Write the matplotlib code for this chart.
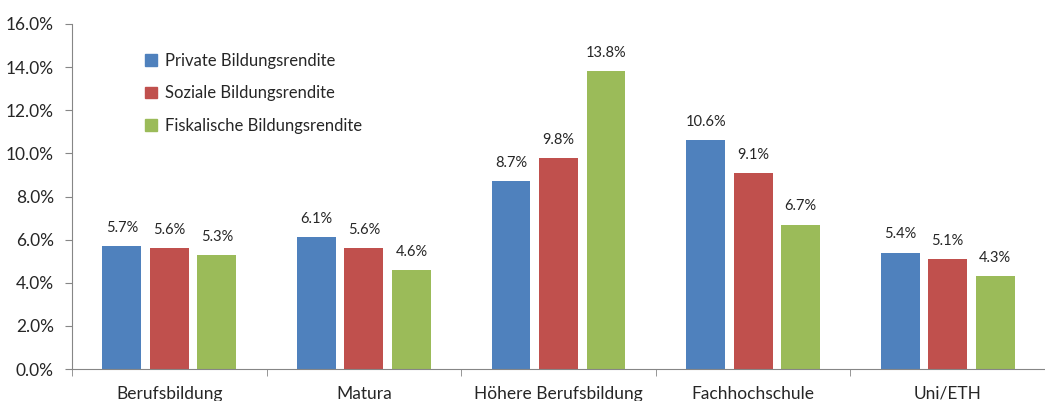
import numpy as np
import matplotlib.pyplot as plt
from matplotlib.patches import Patch

plt.rcParams['font.family'] = ['Lato', 'DejaVu Sans']

# Data
categories = ['Berufsbildung', 'Matura', 'Höhere Berufsbildung', 'Fachhochschule', 'Uni/ETH']
series_names = ['Private Bildungsrendite', 'Soziale Bildungsrendite', 'Fiskalische Bildungsrendite']
private = [5.7, 6.1, 8.7, 10.6, 5.4]
soziale = [5.6, 5.6, 9.8, 9.1, 5.1]
fiskal = [5.3, 4.6, 13.8, 6.7, 4.3]
colors = ['#4F81BD', '#C0504D', '#9BBB59']

fig = plt.figure(figsize=(10.45, 4.01), dpi=100)
ax = fig.add_axes([72 / 1045, 32 / 401, (1045 - 72) / 1045, 345 / 401])

x = np.arange(len(categories))
width = 0.2
step = 0.244
for i, (vals, col, name) in enumerate(zip([private, soziale, fiskal], colors, series_names)):
    pos = x + (i - 1) * step
    ax.bar(pos, vals, width=width, color=col, label=name)
    for p, v in zip(pos, vals):
        ax.annotate(f'{v:.1f}%', (p, v), xytext=(0, 8), textcoords='offset points',
                    ha='center', va='bottom', fontsize=10.5, color='#262626')

ax.set_ylim(0, 16)
ax.set_yticks(np.arange(0, 17, 2))
ax.set_yticklabels([f'{t:.1f}%' for t in np.arange(0, 17, 2)], fontsize=12.5, color='#262626')
ax.set_xlim(-0.5, -0.5 + 973 / 197)
ax.set_xticks(x)
ax.set_xticklabels(categories, fontsize=12.5, color='#262626')
ax.set_xticks(np.arange(-0.5, 5, 1), minor=True)
ax.tick_params(axis='x', which='major', length=0, pad=12)
ax.tick_params(axis='x', which='minor', length=5, color='#868686')
ax.tick_params(axis='y', length=5, color='#868686', pad=8)

for s in ['top', 'right']:
    ax.spines[s].set_visible(False)
for s in ['left', 'bottom']:
    ax.spines[s].set_color('#868686')

handles = [Patch(color=c, label=n) for c, n in zip(colors, series_names)]
ax.legend(handles=handles, loc='upper left', bbox_to_anchor=(0.06, 0.96), frameon=False,
          fontsize=12, handlelength=0.7, handleheight=0.7, handletextpad=0.5,
          labelspacing=1.0, labelcolor='#262626')

fig.savefig('out.png', dpi=100)
